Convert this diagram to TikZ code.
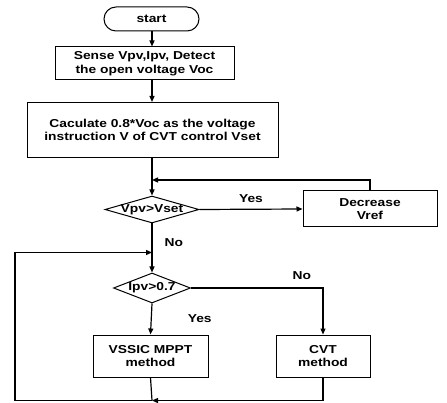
\documentclass[tikz,border=0pt]{standalone}
\usepackage{fontspec}
\newfontfamily\ff{Liberation Sans Bold}[FakeStretch=1.2]
\usetikzlibrary{shapes.geometric,arrows.meta}
\begin{document}
\begin{tikzpicture}[x=1pt,y=-1pt,
  font=\ff\fontsize{11.5}{13.5}\selectfont,
  box/.style={draw,line width=1pt,align=center,inner sep=0pt},
  dia/.style={draw,diamond,line width=1pt,inner sep=0pt},
  conn/.style={line width=1.2pt},
  arr/.style={line width=1.2pt,-{Triangle[length=6pt,width=5pt]}},
  lbl/.style={inner sep=0pt}]
\useasboundingbox (0,0) rectangle (447,403);
\node[box,rounded corners=12pt,minimum width=95pt,minimum height=24pt] (start) at (151.5,19) {start};
\node[box,minimum width=179pt,minimum height=33pt] (sense) at (144.5,63.5) {Sense Vpv,Ipv, Detect\\the open voltage Voc};
\node[box,minimum width=251pt,minimum height=55pt] (calc) at (152.5,130) {Caculate 0.8*Voc as the voltage\\instruction V of CVT control Vset};
\node[dia,minimum width=94pt,minimum height=27pt] (d1) at (152,209.5) {};
\node[lbl] (d1t) at (d1) {Vpv>Vset};
\node[box,minimum width=134pt,minimum height=36pt] (dec) at (370,209) {Decrease\\Vref};
\node[dia,minimum width=77pt,minimum height=30pt] (d2) at (152,288) {};
\node[lbl] (d2t) at (d2) {Ipv>0.7};
\node[box,minimum width=115pt,minimum height=42pt] (vss) at (150.5,356) {VSSIC MPPT\\method};
\node[box,minimum width=94pt,minimum height=42pt] (cvt) at (323,356) {CVT\\method};

\coordinate (j1) at (152,180);
\coordinate (j2) at (152,252.5);
\coordinate (m) at (152,400.5);
\coordinate (bl) at (15,400.5);

\draw[arr] (start.south -| j1) -- (sense.north -| j1);
\draw[arr] (sense.south -| j1) -- (calc.north -| j1);
\draw[arr] (calc.south -| j1) -- (d1.north);
\draw[arr] (d1.east) -- (dec.west) node[lbl,midway,above=6pt] (y1) {Yes};
\draw[arr] (dec.north) |- (j1);
\draw[arr] (d1.south) -- (d2.north) node[lbl,pos=0.4,right=12pt] (n1) {No};
\draw[arr] (d2.east) -| (cvt.north) node[lbl,pos=0.42,above=8pt] (n2) {No};
\draw[arr] (d2.south) -- (vss.north) node[lbl,midway,right=36pt] (y2) {Yes};
\draw[conn] (vss.south) -- (m);
\draw[arr] (cvt.south) |- (m);
\draw[arr] (m) -- (bl) |- (j2);
\end{tikzpicture}
\end{document}
